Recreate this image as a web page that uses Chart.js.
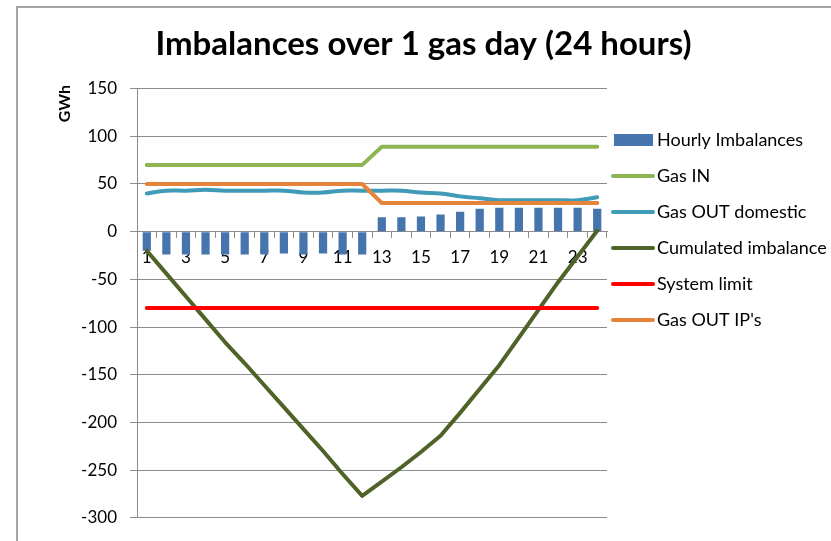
<!DOCTYPE html>
<html>
<head>
<meta charset="utf-8">
<title>Imbalances over 1 gas day</title>
<script src="https://cdn.jsdelivr.net/npm/chart.js@4/dist/chart.umd.min.js"></script>
<style>
  html, body { margin: 0; padding: 0; background: #fff; overflow: hidden; }
  #wrap { position: relative; width: 831px; height: 541px; }
  #frame {
    position: absolute; left: 16px; top: 6px; width: 900px; height: 700px;
    border-left: 2px solid #a6a6a6; border-top: 2px solid #a6a6a6;
    pointer-events: none;
  }
  canvas { position: absolute; left: 0; top: 0; }
</style>
</head>
<body>
<div id="wrap">
  <canvas id="chart" width="831" height="541"></canvas>
  <div id="frame"></div>
</div>
<script>
'use strict';

// ---- data ----
const hours = ['1', '2', '3', '4', '5', '6', '7', '8', '9', '10', '11', '12',
               '13', '14', '15', '16', '17', '18', '19', '20', '21', '22', '23', '24'];

const hourlyImbalances = [-20, -24, -24, -24, -24, -24, -24, -23, -24, -23, -24, -24,
                           15, 15, 16, 18, 21, 24, 25, 25, 25, 25, 25, 24];

const gasIn = [70, 70, 70, 70, 70, 70, 70, 70, 70, 70, 70, 70,
               89, 89, 89, 89, 89, 89, 89, 89, 89, 89, 89, 89];

const gasOutDomestic = [40, 43, 43, 44, 43, 43, 43, 43, 41, 41, 43, 43,
                        43, 43, 41, 40, 37, 35, 33, 33, 33, 33, 33, 36];

const cumulatedImbalance = [-20, -44, -68, -92, -116, -138, -161, -184, -207, -230, -254, -277,
                            -262, -247, -231, -214, -190, -165, -140, -111, -82, -53, -26, 1];

const systemLimit = [-80, -80, -80, -80, -80, -80, -80, -80, -80, -80, -80, -80,
                     -80, -80, -80, -80, -80, -80, -80, -80, -80, -80, -80, -80];

const gasOutIPs = [50, 50, 50, 50, 50, 50, 50, 50, 50, 50, 50, 50,
                   30, 30, 30, 30, 30, 30, 30, 30, 30, 30, 30, 30];

const yTicks = { min: -300, max: 150, step: 50 };

/** Colours picked to match the Excel 2007 palette in the picture */
const COLORS = {
  bar:       '#4674ac',
  gasIn:     '#8db552',
  domestic:  '#3f9bb7',
  cumulated: '#4f6328',
  limit:     '#ff0000',
  ips:       '#e5843b',
  grid:      '#8c8c8c',
  text:      '#000000',
};

const FONT = 'Lato';
Chart.defaults.font.family = FONT;
Chart.defaults.color = COLORS.text;

/** Line dataset helper, Excel style round caps, no markers */
function lineSeries(label, data, color, order, tension) {
  return {
    type: 'line',
    label,
    data,
    borderColor: color,
    backgroundColor: color,
    borderWidth: 4,
    borderCapStyle: 'round',
    borderJoinStyle: 'round',
    pointRadius: 0,
    tension: tension || 0,
    order,
  };
}

/** Legend to the right of the plot and the GWh unit label at the top of the y axis */
const sideLegend = {
  id: 'sideLegend',
  afterDraw(chart) {
    const { ctx, chartArea } = chart;
    const x0 = chartArea.right + 5;
    ctx.save();
    ctx.font = '18px ' + FONT;
    ctx.textBaseline = 'middle';
    ctx.textAlign = 'left';
    chart.data.datasets.forEach((ds, i) => {
      const y = 140 + i * 36;
      if (ds.type === 'bar') {
        ctx.fillStyle = ds.backgroundColor;
        ctx.fillRect(x0 + 2, y - 6, 39, 12);
      } else {
        ctx.strokeStyle = ds.borderColor;
        ctx.lineWidth = 4;
        ctx.lineCap = 'round';
        ctx.beginPath();
        ctx.moveTo(x0 + 1, y);
        ctx.lineTo(x0 + 41, y);
        ctx.stroke();
      }
      ctx.fillStyle = COLORS.text;
      ctx.fillText(ds.label, x0 + 45, y);
    });

    // axis unit, rotated
    ctx.translate(65, chartArea.top + 15);
    ctx.rotate(-Math.PI / 2);
    ctx.font = 'bold 16px ' + FONT;
    ctx.textAlign = 'center';
    ctx.fillText('GWh', 0, 0);
    ctx.restore();
  },
};

new Chart(document.getElementById('chart'), {
  data: {
    labels: hours,
    datasets: [
      {
        type: 'bar',
        label: 'Hourly Imbalances',
        data: hourlyImbalances,
        backgroundColor: COLORS.bar,
        barPercentage: 0.42,
        categoryPercentage: 1.0,
        order: 10,
      },
      lineSeries('Gas IN', gasIn, COLORS.gasIn, 6),
      lineSeries('Gas OUT domestic', gasOutDomestic, COLORS.domestic, 5, 0.4),
      lineSeries('Cumulated imbalance', cumulatedImbalance, COLORS.cumulated, 4),
      lineSeries('System limit', systemLimit, COLORS.limit, 3),
      lineSeries("Gas OUT IP's", gasOutIPs, COLORS.ips, 2),
    ],
  },
  options: {
    responsive: false,
    animation: false,
    layout: { padding: { left: 16, right: 0, top: 0, bottom: 0 } },
    plugins: {
      legend: { display: false },
      tooltip: { enabled: false },
      title: {
        display: true,
        text: 'Imbalances over 1 gas day (24 hours)',
        color: COLORS.text,
        font: { family: FONT, size: 33, weight: 'bold', lineHeight: 1.2 },
        padding: { top: 25, bottom: 24 },
      },
    },
    scales: {
      x: {
        type: 'category',
        position: { y: 0 },
        offset: true,
        grid: {
          offset: true,
          drawOnChartArea: false,
          drawTicks: true,
          tickLength: 6,
          color: COLORS.grid,
        },
        border: { color: COLORS.grid, width: 1 },
        ticks: {
          autoSkip: false,
          maxRotation: 0,
          padding: 10,
          font: { size: 17 },
          color: COLORS.text,
          callback: (v, i) => (i % 2 === 0 ? hours[i] : ''),
        },
        afterFit: (s) => { s.height = 28; },
      },
      y: {
        position: 'left',
        min: yTicks.min,
        max: yTicks.max,
        grid: { color: COLORS.grid, tickLength: 7 },
        border: { color: COLORS.grid, width: 1 },
        ticks: { stepSize: yTicks.step, padding: 13, font: { size: 17 }, color: COLORS.text },
        afterFit: (s) => { s.width = 121; },
      },
      // empty right axis that keeps room for the legend
      legendRoom: {
        position: 'right',
        display: true,
        grid: { display: false },
        border: { display: false },
        ticks: { display: false },
        afterFit: (s) => { s.width = 224; },
      },
    },
  },
  plugins: [sideLegend],
});
</script>
</body>
</html>
